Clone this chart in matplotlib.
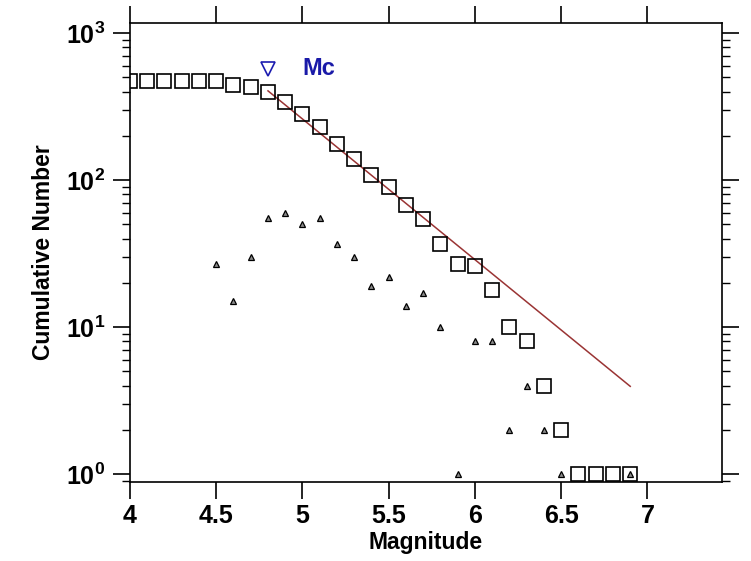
import numpy as np
import matplotlib
matplotlib.use("Agg")
import matplotlib.pyplot as plt
from matplotlib.ticker import LogLocator, FixedLocator, NullFormatter, FuncFormatter

plt.rcParams['font.family'] = ['Liberation Sans', 'DejaVu Sans']
plt.rcParams['mathtext.fontset'] = 'custom'
plt.rcParams['mathtext.rm'] = 'Liberation Sans:bold'
plt.rcParams['mathtext.it'] = 'Liberation Sans:bold'
plt.rcParams['mathtext.bf'] = 'Liberation Sans:bold'

# Cumulative number of events vs magnitude
mag_cum = [4.0, 4.1, 4.2, 4.3, 4.4, 4.5, 4.6, 4.7, 4.8, 4.9, 5.0, 5.1, 5.2, 5.3,
           5.4, 5.5, 5.6, 5.7, 5.8, 5.9, 6.0, 6.1, 6.2, 6.3, 6.4, 6.5, 6.6, 6.7,
           6.8, 6.9]
cum_num = [468, 468, 468, 468, 468, 468, 441, 426, 396, 341, 281, 231, 176, 139,
           109, 90, 68, 54, 37, 27, 26, 18, 10, 8, 4, 2, 1, 1, 1, 1]

# Non-cumulative number per bin
mag_inc = [4.5, 4.6, 4.7, 4.8, 4.9, 5.0, 5.1, 5.2, 5.3, 5.4, 5.5, 5.6, 5.7,
           5.8, 5.9, 6.0, 6.1, 6.2, 6.3, 6.4, 6.5, 6.9]
inc_num = [27, 15, 30, 55, 60, 50, 55, 37, 30, 19, 22, 14, 17,
           10, 1, 8, 8, 2, 4, 2, 1, 1]

# Gutenberg-Richter fit: log10 N = a - b M, from Mc to max magnitude
fit_a = 7.20
fit_b = 0.957
fit_range = [4.8, 6.9]

# Magnitude of completeness
mc_mag = 4.8
mc_y = 570
mc_label = "Mc"

x_ticks = [4, 4.5, 5, 5.5, 6, 6.5, 7]
x_ticklabels = ["4", "4.5", "5", "5.5", "6", "6.5", "7"]

fig = plt.figure(figsize=(7.51, 5.61), dpi=100)
ax = fig.add_axes([130/751, 1-482/561, (722-130)/751, (482-23)/561])

ax.set_yscale('log')
ax.set_xlim(4, 7.432)
ax.set_ylim(10**(-0.054), 10**3.068)

# fit line
fx = np.linspace(fit_range[0], fit_range[1], 50)
fy = 10 ** (fit_a - fit_b * fx)
ax.plot(fx, fy, color='#9a3434', lw=1.1, zorder=2)

# cumulative squares
ax.plot(mag_cum, cum_num, ls='none', marker='s', ms=10.5, mfc='none',
        mec='black', mew=1.2, zorder=3)

# non-cumulative triangles
ax.plot(mag_inc, inc_num, ls='none', marker='^', ms=5, mfc='#8a8a8a',
        mec='black', mew=0.9, zorder=3)

# Mc marker
ax.plot([mc_mag], [mc_y], ls='none', marker='v', ms=10, mfc='white',
        mec='#1c1cb0', mew=1.2, zorder=4)
ax.text(5.0, mc_y, mc_label, color='#1a1aa8', fontsize=17, fontweight='bold',
        ha='left', va='center')

# ticks
ax.xaxis.set_major_locator(FixedLocator(x_ticks))
ax.set_xticklabels(x_ticklabels, fontweight='bold')
ax.yaxis.set_major_locator(LogLocator(base=10, numticks=10))
ax.yaxis.set_minor_locator(LogLocator(base=10, subs=np.arange(2, 10), numticks=10))
ax.yaxis.set_minor_formatter(NullFormatter())
ax.yaxis.set_major_formatter(FuncFormatter(lambda v, p: r'$\mathbf{10^{%d}}$' % round(np.log10(v))))

ax.tick_params(axis='both', which='major', direction='out', length=12, width=1.2,
               labelsize=18, top=True, right=True, colors='black')
ax.tick_params(axis='y', which='minor', direction='out', length=6, width=1.0,
               right=True, left=True)
ax.tick_params(axis='x', which='major', pad=4)
ax.tick_params(axis='y', which='major', pad=6)
for s in ax.spines.values():
    s.set_linewidth(1.2)

ax.set_xlabel("Magnitude", fontsize=16.5, fontweight='bold', labelpad=2)
ax.set_ylabel("Cumulative Number", fontsize=16.5, fontweight='bold', labelpad=8)

fig.savefig("out.png", dpi=100)
